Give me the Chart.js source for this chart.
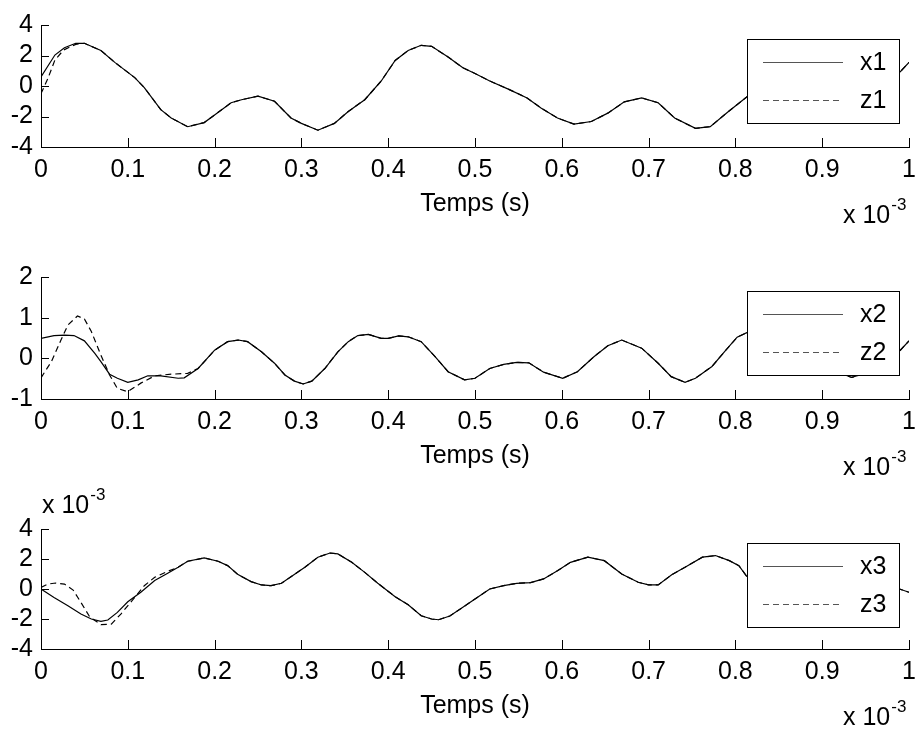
<!DOCTYPE html>
<html>
<head>
<meta charset="utf-8">
<script src="https://cdn.jsdelivr.net/npm/chart.js@4.4.1/dist/chart.umd.min.js"></script>
<style>
  html, body { margin: 0; padding: 0; background: #fff; overflow: hidden; }
  #wrap { position: relative; width: 917px; height: 731px; }
  canvas { position: absolute; left: 0; }
</style>
</head>
<body>
<div id="wrap">
  <canvas id="plot1" width="917" height="240" style="top:0px"></canvas>
  <canvas id="plot2" width="917" height="240" style="top:245px"></canvas>
  <canvas id="plot3" width="917" height="246" style="top:485px"></canvas>
</div>
<script>
// time is in units of 1e-3 s (axis shows "x 10^-3")
const xTicks = [0, 0.1, 0.2, 0.3, 0.4, 0.5, 0.6, 0.7, 0.8, 0.9, 1];
const xTickLabels = ['0', '0.1', '0.2', '0.3', '0.4', '0.5', '0.6', '0.7', '0.8', '0.9', '1'];
const yTicks1 = [-4, -2, 0, 2, 4];
const yTicks2 = [-1, 0, 1, 2];
const yTicks3 = [-4, -2, 0, 2, 4];

// plot 1
const tX1 = [0, 0.016, 0.027, 0.04, 0.05, 0.069, 0.085, 0.108, 0.119, 0.138, 0.15, 0.169, 0.188, 0.2, 0.219, 0.231, 0.25, 0.269, 0.288, 0.3, 0.319, 0.338, 0.354, 0.373, 0.392, 0.408, 0.423, 0.438, 0.45, 0.469, 0.486, 0.5, 0.517, 0.539, 0.56, 0.576, 0.595, 0.614, 0.634, 0.653, 0.672, 0.692, 0.711, 0.73, 0.754, 0.771, 0.792, 0.813, 0.84, 0.87, 0.9, 0.93, 0.96, 0.99, 1];
const x1 = [0.6, 2.03, 2.51, 2.8, 2.8, 2.33, 1.55, 0.55, -0.1, -1.55, -2.1, -2.67, -2.4, -1.9, -1.1, -0.9, -0.67, -1.0, -2.1, -2.45, -2.9, -2.45, -1.67, -0.9, 0.33, 1.67, 2.33, 2.67, 2.6, 1.9, 1.2, 0.82, 0.33, -0.22, -0.78, -1.44, -2.1, -2.5, -2.33, -1.78, -1.04, -0.78, -1.1, -2.1, -2.78, -2.67, -1.67, -0.72, 0.3, 0.9, 0.8, 0.2, 0.1, 0.94, 1.55];
const tZ1 = [0, 0.008, 0.016, 0.026, 0.04, 0.05, 0.069, 0.085, 0.108, 0.119, 0.138, 0.15, 0.169, 0.188, 0.2, 0.219, 0.231, 0.25, 0.269, 0.288, 0.3, 0.319, 0.338, 0.354, 0.373, 0.392, 0.408, 0.423, 0.438, 0.45, 0.469, 0.486, 0.5, 0.517, 0.539, 0.56, 0.576, 0.595, 0.614, 0.634, 0.653, 0.672, 0.692, 0.711, 0.73, 0.754, 0.771, 0.792, 0.813, 0.84, 0.87, 0.9, 0.93, 0.96, 0.99, 1];
const z1 = [-0.5, 0.5, 1.7, 2.36, 2.73, 2.8, 2.33, 1.55, 0.55, -0.1, -1.55, -2.1, -2.67, -2.4, -1.9, -1.1, -0.9, -0.67, -1.0, -2.1, -2.45, -2.9, -2.45, -1.67, -0.9, 0.33, 1.67, 2.33, 2.67, 2.6, 1.9, 1.2, 0.82, 0.33, -0.22, -0.78, -1.44, -2.1, -2.5, -2.33, -1.78, -1.04, -0.78, -1.1, -2.1, -2.78, -2.67, -1.67, -0.72, 0.3, 0.9, 0.8, 0.2, 0.1, 0.94, 1.55];

// plot 2
const tX2 = [0, 0.015, 0.027, 0.038, 0.05, 0.062, 0.069, 0.079, 0.088, 0.1, 0.112, 0.123, 0.138, 0.158, 0.165, 0.181, 0.2, 0.215, 0.227, 0.238, 0.254, 0.269, 0.281, 0.292, 0.302, 0.312, 0.327, 0.342, 0.354, 0.365, 0.377, 0.392, 0.4, 0.412, 0.423, 0.438, 0.454, 0.469, 0.488, 0.5, 0.517, 0.533, 0.548, 0.562, 0.579, 0.601, 0.618, 0.637, 0.653, 0.669, 0.692, 0.711, 0.726, 0.742, 0.754, 0.773, 0.789, 0.802, 0.813, 0.84, 0.87, 0.9, 0.934, 0.96, 0.99, 1];
const x2 = [0.49, 0.56, 0.57, 0.56, 0.43, 0.12, -0.08, -0.39, -0.49, -0.59, -0.53, -0.43, -0.43, -0.49, -0.48, -0.25, 0.2, 0.41, 0.45, 0.41, 0.16, -0.12, -0.41, -0.56, -0.63, -0.56, -0.25, 0.16, 0.41, 0.56, 0.59, 0.49, 0.49, 0.55, 0.53, 0.41, 0.04, -0.33, -0.53, -0.49, -0.25, -0.15, -0.1, -0.11, -0.34, -0.49, -0.33, 0.04, 0.31, 0.45, 0.25, -0.12, -0.45, -0.59, -0.49, -0.2, 0.2, 0.52, 0.63, 0.55, 0.15, -0.2, -0.47, -0.3, 0.2, 0.43];
const tZ2 = [0, 0.012, 0.023, 0.031, 0.042, 0.05, 0.058, 0.069, 0.079, 0.088, 0.1, 0.115, 0.131, 0.15, 0.169, 0.181, 0.2, 0.215, 0.227, 0.238, 0.254, 0.269, 0.281, 0.292, 0.302, 0.312, 0.327, 0.342, 0.354, 0.365, 0.377, 0.392, 0.4, 0.412, 0.423, 0.438, 0.454, 0.469, 0.488, 0.5, 0.517, 0.533, 0.548, 0.562, 0.579, 0.601, 0.618, 0.637, 0.653, 0.669, 0.692, 0.711, 0.726, 0.742, 0.754, 0.773, 0.789, 0.802, 0.813, 0.84, 0.87, 0.9, 0.934, 0.96, 0.99, 1];
const z2 = [-0.48, -0.08, 0.45, 0.82, 1.04, 0.97, 0.66, 0.08, -0.41, -0.74, -0.82, -0.61, -0.43, -0.39, -0.37, -0.25, 0.2, 0.41, 0.45, 0.41, 0.16, -0.12, -0.41, -0.56, -0.63, -0.56, -0.25, 0.16, 0.41, 0.56, 0.59, 0.49, 0.49, 0.55, 0.53, 0.41, 0.04, -0.33, -0.53, -0.49, -0.25, -0.15, -0.1, -0.11, -0.34, -0.49, -0.33, 0.04, 0.31, 0.45, 0.25, -0.12, -0.45, -0.59, -0.49, -0.2, 0.2, 0.52, 0.63, 0.55, 0.15, -0.2, -0.47, -0.3, 0.2, 0.43];

// plot 3 (values x 10^-3)
const tX3 = [0, 0.015, 0.031, 0.046, 0.058, 0.069, 0.077, 0.088, 0.1, 0.115, 0.131, 0.146, 0.158, 0.169, 0.188, 0.204, 0.215, 0.227, 0.242, 0.254, 0.265, 0.277, 0.288, 0.304, 0.319, 0.333, 0.342, 0.358, 0.373, 0.388, 0.408, 0.423, 0.438, 0.45, 0.458, 0.471, 0.486, 0.5, 0.517, 0.533, 0.548, 0.564, 0.579, 0.595, 0.61, 0.63, 0.649, 0.669, 0.688, 0.7, 0.711, 0.727, 0.742, 0.762, 0.777, 0.793, 0.804, 0.813, 0.83, 0.86, 0.9, 0.94, 0.97, 0.99, 1];
const x3 = [0, -0.56, -1.11, -1.67, -2.0, -2.16, -2.07, -1.56, -0.85, -0.22, 0.56, 1.05, 1.45, 1.85, 2.07, 1.85, 1.56, 0.96, 0.49, 0.27, 0.22, 0.38, 0.82, 1.45, 2.12, 2.4, 2.34, 1.78, 1.11, 0.38, -0.51, -1.05, -1.78, -2.0, -2.05, -1.8, -1.22, -0.67, 0, 0.22, 0.38, 0.42, 0.67, 1.22, 1.78, 2.12, 1.89, 1.0, 0.45, 0.27, 0.27, 0.96, 1.45, 2.12, 2.23, 1.89, 1.56, 0.85, 0.3, 0.1, 0.3, 0.5, 0.25, -0.02, -0.22];
const tZ3 = [0, 0.008, 0.017, 0.027, 0.037, 0.046, 0.056, 0.069, 0.081, 0.092, 0.108, 0.119, 0.131, 0.146, 0.158, 0.169, 0.188, 0.204, 0.215, 0.227, 0.242, 0.254, 0.265, 0.277, 0.288, 0.304, 0.319, 0.333, 0.342, 0.358, 0.373, 0.388, 0.408, 0.423, 0.438, 0.45, 0.458, 0.471, 0.486, 0.5, 0.517, 0.533, 0.548, 0.564, 0.579, 0.595, 0.61, 0.63, 0.649, 0.669, 0.688, 0.7, 0.711, 0.727, 0.742, 0.762, 0.777, 0.793, 0.804, 0.813, 0.83, 0.86, 0.9, 0.94, 0.97, 0.99, 1];
const z3 = [0.11, 0.33, 0.4, 0.33, -0.07, -0.89, -1.85, -2.38, -2.34, -1.67, -0.56, 0.22, 0.78, 1.18, 1.45, 1.85, 2.07, 1.85, 1.56, 0.96, 0.49, 0.27, 0.22, 0.38, 0.82, 1.45, 2.12, 2.4, 2.34, 1.78, 1.11, 0.38, -0.51, -1.05, -1.78, -2.0, -2.05, -1.8, -1.22, -0.67, 0, 0.22, 0.38, 0.42, 0.67, 1.22, 1.78, 2.12, 1.89, 1.0, 0.45, 0.27, 0.27, 0.96, 1.45, 2.12, 2.23, 1.89, 1.56, 0.85, 0.3, 0.1, 0.3, 0.5, 0.25, -0.02, -0.22];

const FONT = '"Liberation Sans", Arial, sans-serif';
const FSIZE = 25;
Chart.defaults.font.family = FONT;
Chart.defaults.font.size = FSIZE;
Chart.defaults.color = '#000';

const toPoints = (ts, vs) => vs.map((v, i) => ({ x: ts[i], y: v }));

// matlab-ish bits: inward ticks, boxed legend, "x 10^-3" notes
const decor = {
  id: 'decor',
  afterDraw(chart, args, opts) {
    const ctx = chart.ctx;
    const ca = chart.chartArea;
    const xs = chart.scales.x, ys = chart.scales.y;
    ctx.save();
    ctx.strokeStyle = '#000';
    ctx.lineWidth = 1;
    ctx.setLineDash([]);
    xs.ticks.forEach(t => {
      const px = Math.round(xs.getPixelForValue(t.value)) + 0.5;
      ctx.beginPath(); ctx.moveTo(px, ca.bottom); ctx.lineTo(px, ca.bottom - 9); ctx.stroke();
    });
    ys.ticks.forEach(t => {
      const py = Math.round(ys.getPixelForValue(t.value)) + 0.5;
      ctx.beginPath(); ctx.moveTo(ca.left, py); ctx.lineTo(ca.left + 8, py); ctx.stroke();
    });

    // legend box
    const bx = ca.right - 162, by = ca.top + 14, bw = 152, bh = 84;
    ctx.fillStyle = '#fff';
    ctx.fillRect(bx, by, bw, bh);
    ctx.strokeRect(bx + 0.5, by + 0.5, bw, bh);
    ctx.font = FSIZE + 'px ' + FONT;
    ctx.textBaseline = 'middle';
    chart.data.datasets.forEach((ds, i) => {
      const ly = Math.round(by + 23 + i * 37.5) + 0.5;
      ctx.strokeStyle = '#555';
      ctx.setLineDash(ds.borderDash || []);
      ctx.beginPath(); ctx.moveTo(bx + 16, ly); ctx.lineTo(bx + 96, ly); ctx.stroke();
      ctx.fillStyle = '#000';
      ctx.fillText(ds.label, bx + 113, ly + 1);
    });
    ctx.setLineDash([]);

    // exponent notes
    const note = (x, y) => {
      ctx.font = FSIZE + 'px ' + FONT;
      ctx.textBaseline = 'alphabetic';
      ctx.fillStyle = '#000';
      ctx.fillText('x 10', x, y);
      const w = ctx.measureText('x 10').width;
      ctx.font = '17px ' + FONT;
      ctx.fillText('-3', x + w + 1, y - 13);
    };
    note(843, ca.bottom + 76);
    if (opts.topNote) note(42, ca.top - 16);
    ctx.restore();
  }
};

function makePlot(id, cfg) {
  const canvasBottom = cfg.canvasTop + cfg.height;
  const lh = FSIZE * 1.2;
  return new Chart(document.getElementById(id), {
    type: 'line',
    data: {
      datasets: [
        { label: cfg.labels[0], data: toPoints(cfg.tA, cfg.a), borderColor: '#000', borderWidth: 1.2, pointRadius: 0, tension: 0 },
        { label: cfg.labels[1], data: toPoints(cfg.tB, cfg.b), borderColor: '#000', borderWidth: 1.2, borderDash: [6, 4], pointRadius: 0, tension: 0 }
      ]
    },
    options: {
      responsive: false,
      animation: false,
      devicePixelRatio: 1,
      layout: { padding: { top: cfg.chartTop - cfg.canvasTop, right: 8, left: 0, bottom: 0 } },
      plugins: { legend: { display: false }, tooltip: { enabled: false }, decor: { topNote: cfg.topNote } },
      scales: {
        x: {
          type: 'linear', min: 0, max: 1,
          afterBuildTicks: s => { s.ticks = xTicks.map(v => ({ value: v })); },
          afterFit: s => { s.height = canvasBottom - cfg.chartBottom; s.paddingLeft = 0; s.paddingRight = 0; },
          ticks: { callback: (v, i) => xTickLabels[i], padding: 8, maxRotation: 0, autoSkip: false },
          grid: { display: false, drawTicks: false },
          border: { display: true, color: '#000', width: 1 },
          title: { display: true, text: 'Temps (s)', padding: { top: 0, bottom: canvasBottom - (cfg.chartBottom + 57) - lh / 2 } }
        },
        y: {
          min: cfg.yTicks[0], max: cfg.yTicks[cfg.yTicks.length - 1],
          afterBuildTicks: s => { s.ticks = cfg.yTicks.map(v => ({ value: v })); },
          afterFit: s => { s.width = 41; s.paddingTop = 0; s.paddingBottom = 0; },
          ticks: { callback: v => String(v), padding: 8, autoSkip: false },
          grid: { display: false, drawTicks: false },
          border: { display: true, color: '#000', width: 1 }
        }
      }
    },
    plugins: [decor]
  });
}

makePlot('plot1', { canvasTop: 0, height: 240, chartTop: 25, chartBottom: 147, tA: tX1, a: x1, tB: tZ1, b: z1, labels: ['x1', 'z1'], yTicks: yTicks1 });
makePlot('plot2', { canvasTop: 245, height: 240, chartTop: 277, chartBottom: 399, tA: tX2, a: x2, tB: tZ2, b: z2, labels: ['x2', 'z2'], yTicks: yTicks2 });
makePlot('plot3', { canvasTop: 485, height: 246, chartTop: 529, chartBottom: 649, tA: tX3, a: x3, tB: tZ3, b: z3, labels: ['x3', 'z3'], yTicks: yTicks3, topNote: true });
</script>
</body>
</html>
